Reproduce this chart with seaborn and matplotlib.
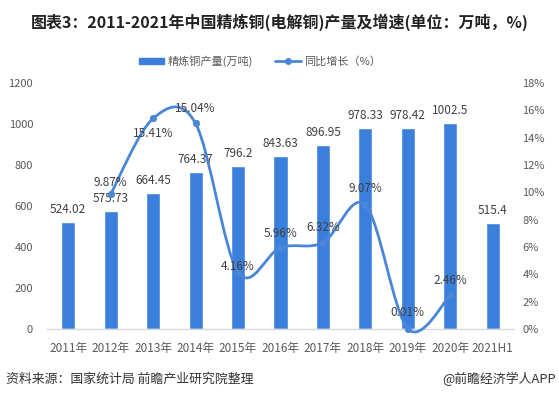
import numpy as np
import pandas as pd
import matplotlib
matplotlib.use('Agg')
import matplotlib.pyplot as plt
import seaborn as sns
from matplotlib.path import Path
from matplotlib.patches import PathPatch, Patch
from matplotlib.lines import Line2D

categories = ['2011年', '2012年', '2013年', '2014年', '2015年', '2016年',
              '2017年', '2018年', '2019年', '2020年', '2021H1']
output = [524.02, 575.73, 664.45, 764.37, 796.2, 843.63, 896.95, 978.33, 978.42, 1002.5, 515.4]
growth_years = ['2012年', '2013年', '2014年', '2015年', '2016年', '2017年', '2018年', '2019年', '2020年']
growth = [9.87, 15.41, 15.04, 4.16, 5.96, 6.32, 9.07, 0.01, 2.46]
growth_label_offsets = [8, -11, 11, 4, 10, 11, 12, 12, 11]
left_ticks = [0, 200, 400, 600, 800, 1000, 1200]
right_ticks = [0, 2, 4, 6, 8, 10, 12, 14, 16, 18]
title = '图表3：2011-2021年中国精炼铜(电解铜)产量及增速(单位：万吨，%)'
bar_name = '精炼铜产量(万吨)'
line_name = '同比增长（%）'
source = '资料来源：国家统计局 前瞻产业研究院整理'
credit = '@前瞻经济学人APP'

BAR = '#3b7fdc'
LINE = '#4a86d8'
TXT = '#404040'
TICK = '#595959'

sns.set_theme(style='white')
plt.rcParams['font.family'] = ['Noto Sans CJK SC', 'DejaVu Sans']

W, H = 559, 399
fig = plt.figure(figsize=(W / 100, H / 100), dpi=100)
ax = fig.add_axes([47 / W, 70 / H, (514 - 47) / W, 246 / H])

df = pd.DataFrame({'cat': categories, 'val': output})
sns.barplot(data=df, x='cat', y='val', color=BAR, saturation=1, width=0.33, ax=ax, zorder=2)
ax.set_xlim(-0.5, len(categories) - 0.5)
ax.set_ylim(left_ticks[0], left_ticks[-1])
ax.set_yticks(left_ticks)
ax.set_yticklabels([str(t) for t in left_ticks])
ax.set_xlabel('')
ax.set_ylabel('')
for s in ['top', 'left', 'right']:
    ax.spines[s].set_visible(False)
ax.spines['bottom'].set_color('#d9d9d9')
ax.spines['bottom'].set_linewidth(1)
ax.tick_params(axis='both', length=0, labelsize=8, labelcolor=TICK)
ax.tick_params(axis='x', pad=9.5, labelsize=8.5)
ax.tick_params(axis='y', pad=10)

for i, v in enumerate(output):
    ax.annotate(f'{v:g}', (i, v), xytext=(0, 9), textcoords='offset points',
                ha='center', va='center', fontsize=8.5, color=TXT, zorder=5)

ax2 = ax.twinx()
ax2.set_ylim(right_ticks[0], right_ticks[-1])
ax2.set_yticks(right_ticks)
ax2.set_yticklabels([f'{t}%' for t in right_ticks])
for s in ['top', 'left', 'right', 'bottom']:
    ax2.spines[s].set_visible(False)
ax2.tick_params(axis='y', length=0, labelsize=8, labelcolor=TICK, pad=6)
ax2.grid(False)
ax.grid(False)

xpos = [categories.index(y) for y in growth_years]
pts = np.column_stack([xpos, growth]).astype(float)
n = len(pts)
verts = [pts[0]]
codes = [Path.MOVETO]
for i in range(n - 1):
    p0 = pts[i - 1] if i > 0 else pts[i]
    p1 = pts[i]
    p2 = pts[i + 1]
    p3 = pts[i + 2] if i + 2 < n else pts[i + 1]
    c1 = p1 + (p2 - p0) / 6.0
    c2 = p2 - (p3 - p1) / 6.0
    verts += [c1, c2, p2]
    codes += [Path.CURVE4] * 3
patch = PathPatch(Path(verts, codes), facecolor='none', edgecolor=LINE, lw=2,
                  transform=ax2.transData, clip_on=False, zorder=3)
ax2.add_patch(patch)
sns.scatterplot(x=xpos, y=growth, ax=ax2, color=LINE, s=22, edgecolor=LINE,
                linewidth=0.5, zorder=4, legend=False, clip_on=False)
ax2.set_xlim(-0.5, len(categories) - 0.5)

for x, g, off in zip(xpos, growth, growth_label_offsets):
    ax2.annotate(f'{g:.2f}%', (x, g), xytext=(0, off), textcoords='offset points',
                 ha='center', va='center', fontsize=8.5, color=TXT, zorder=6)

handles = [Patch(facecolor=BAR, edgecolor=BAR, label=bar_name),
           Line2D([], [], color=LINE, lw=2, marker='o', ms=4, label=line_name)]
fig.legend(handles=handles, loc='center', bbox_to_anchor=(0.465, 1 - 61 / H), ncol=2,
           frameon=False, fontsize=8, handlelength=2.3, handleheight=0.5,
           columnspacing=2.0, handletextpad=0.3, labelcolor=TICK)

fig.text(0.5, 1 - 22 / H, title, ha='center', va='center', fontsize=11.5,
         fontweight='bold', color='#222222')
fig.text(6 / W, 1 - 379 / H, source, ha='left', va='center', fontsize=9.3, color='#333333')
fig.text(556 / W, 1 - 379 / H, credit, ha='right', va='center', fontsize=9.3, color='#333333')

fig.savefig('out.png', dpi=100)
